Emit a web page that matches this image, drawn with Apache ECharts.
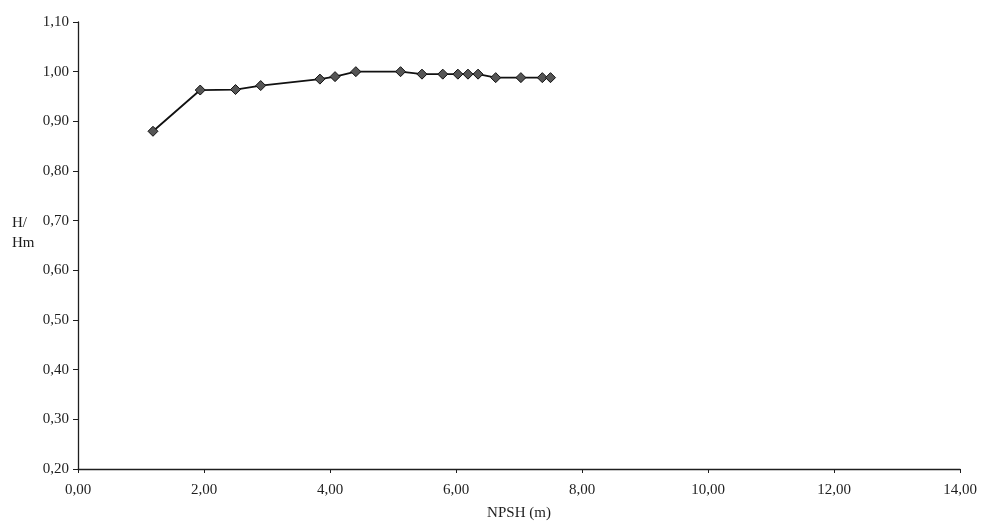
<!DOCTYPE html>
<html>
<head>
<meta charset="utf-8">
<script src="https://cdn.jsdelivr.net/npm/echarts@6/dist/echarts.min.js"></script>
<style>
  html, body { margin: 0; padding: 0; background: #ffffff; }
  #chart { width: 981px; height: 529px; }
</style>
</head>
<body>
<div id="chart"></div>
<script>
// NPSH (m) against relative head H/Hm
const npsh = [1.19, 1.94, 2.50, 2.90, 3.84, 4.08, 4.41, 5.12, 5.46, 5.79, 6.03, 6.19, 6.35, 6.63, 7.03, 7.37, 7.50];
const headRatio = [0.88, 0.963, 0.964, 0.972, 0.985, 0.990, 1.000, 1.000, 0.995, 0.995, 0.995, 0.995, 0.995, 0.988, 0.988, 0.988, 0.988];

const xMin = 0, xMax = 14, xStep = 2;
const yMin = 0.2, yMax = 1.1, yStep = 0.1;

const fmt = v => v.toFixed(2).replace('.', ',');

const chart = echarts.init(document.getElementById('chart'));
const serif = 'Liberation Serif, Times New Roman, serif';
const ink = '#1e1e1e';

chart.setOption({
  backgroundColor: '#ffffff',
  animation: false,
  grid: { left: 78, right: 21, top: 22, bottom: 60 },
  xAxis: {
    type: 'value',
    min: xMin, max: xMax, interval: xStep,
    axisLine: { onZero: false, lineStyle: { color: ink, width: 1.3 } },
    axisTick: { show: true, length: 4, lineStyle: { color: ink } },
    splitLine: { show: false },
    axisLabel: { formatter: fmt, color: ink, fontFamily: serif, fontSize: 15, margin: 14 },
    name: 'NPSH (m)',
    nameLocation: 'middle',
    nameGap: 37,
    nameTextStyle: { color: ink, fontFamily: serif, fontSize: 15 }
  },
  yAxis: {
    type: 'value',
    min: yMin, max: yMax, interval: yStep,
    axisLine: { show: true, onZero: false, lineStyle: { color: ink, width: 1.3 } },
    axisTick: { show: true, length: 5, lineStyle: { color: ink } },
    splitLine: { show: false },
    axisLabel: { formatter: fmt, color: ink, fontFamily: serif, fontSize: 15, margin: 9 }
  },
  graphic: [{
    type: 'text',
    left: 12, top: 213,
    style: { text: 'H/\nHm', fill: ink, font: '15px ' + serif, lineHeight: 20 }
  }],
  series: [{
    type: 'line',
    data: npsh.map((x, i) => [x, headRatio[i]]),
    symbol: 'diamond',
    symbolSize: 10,
    lineStyle: { color: '#111', width: 1.8 },
    itemStyle: { color: '#555', borderColor: '#111', borderWidth: 1 }
  }]
});
</script>
</body>
</html>
